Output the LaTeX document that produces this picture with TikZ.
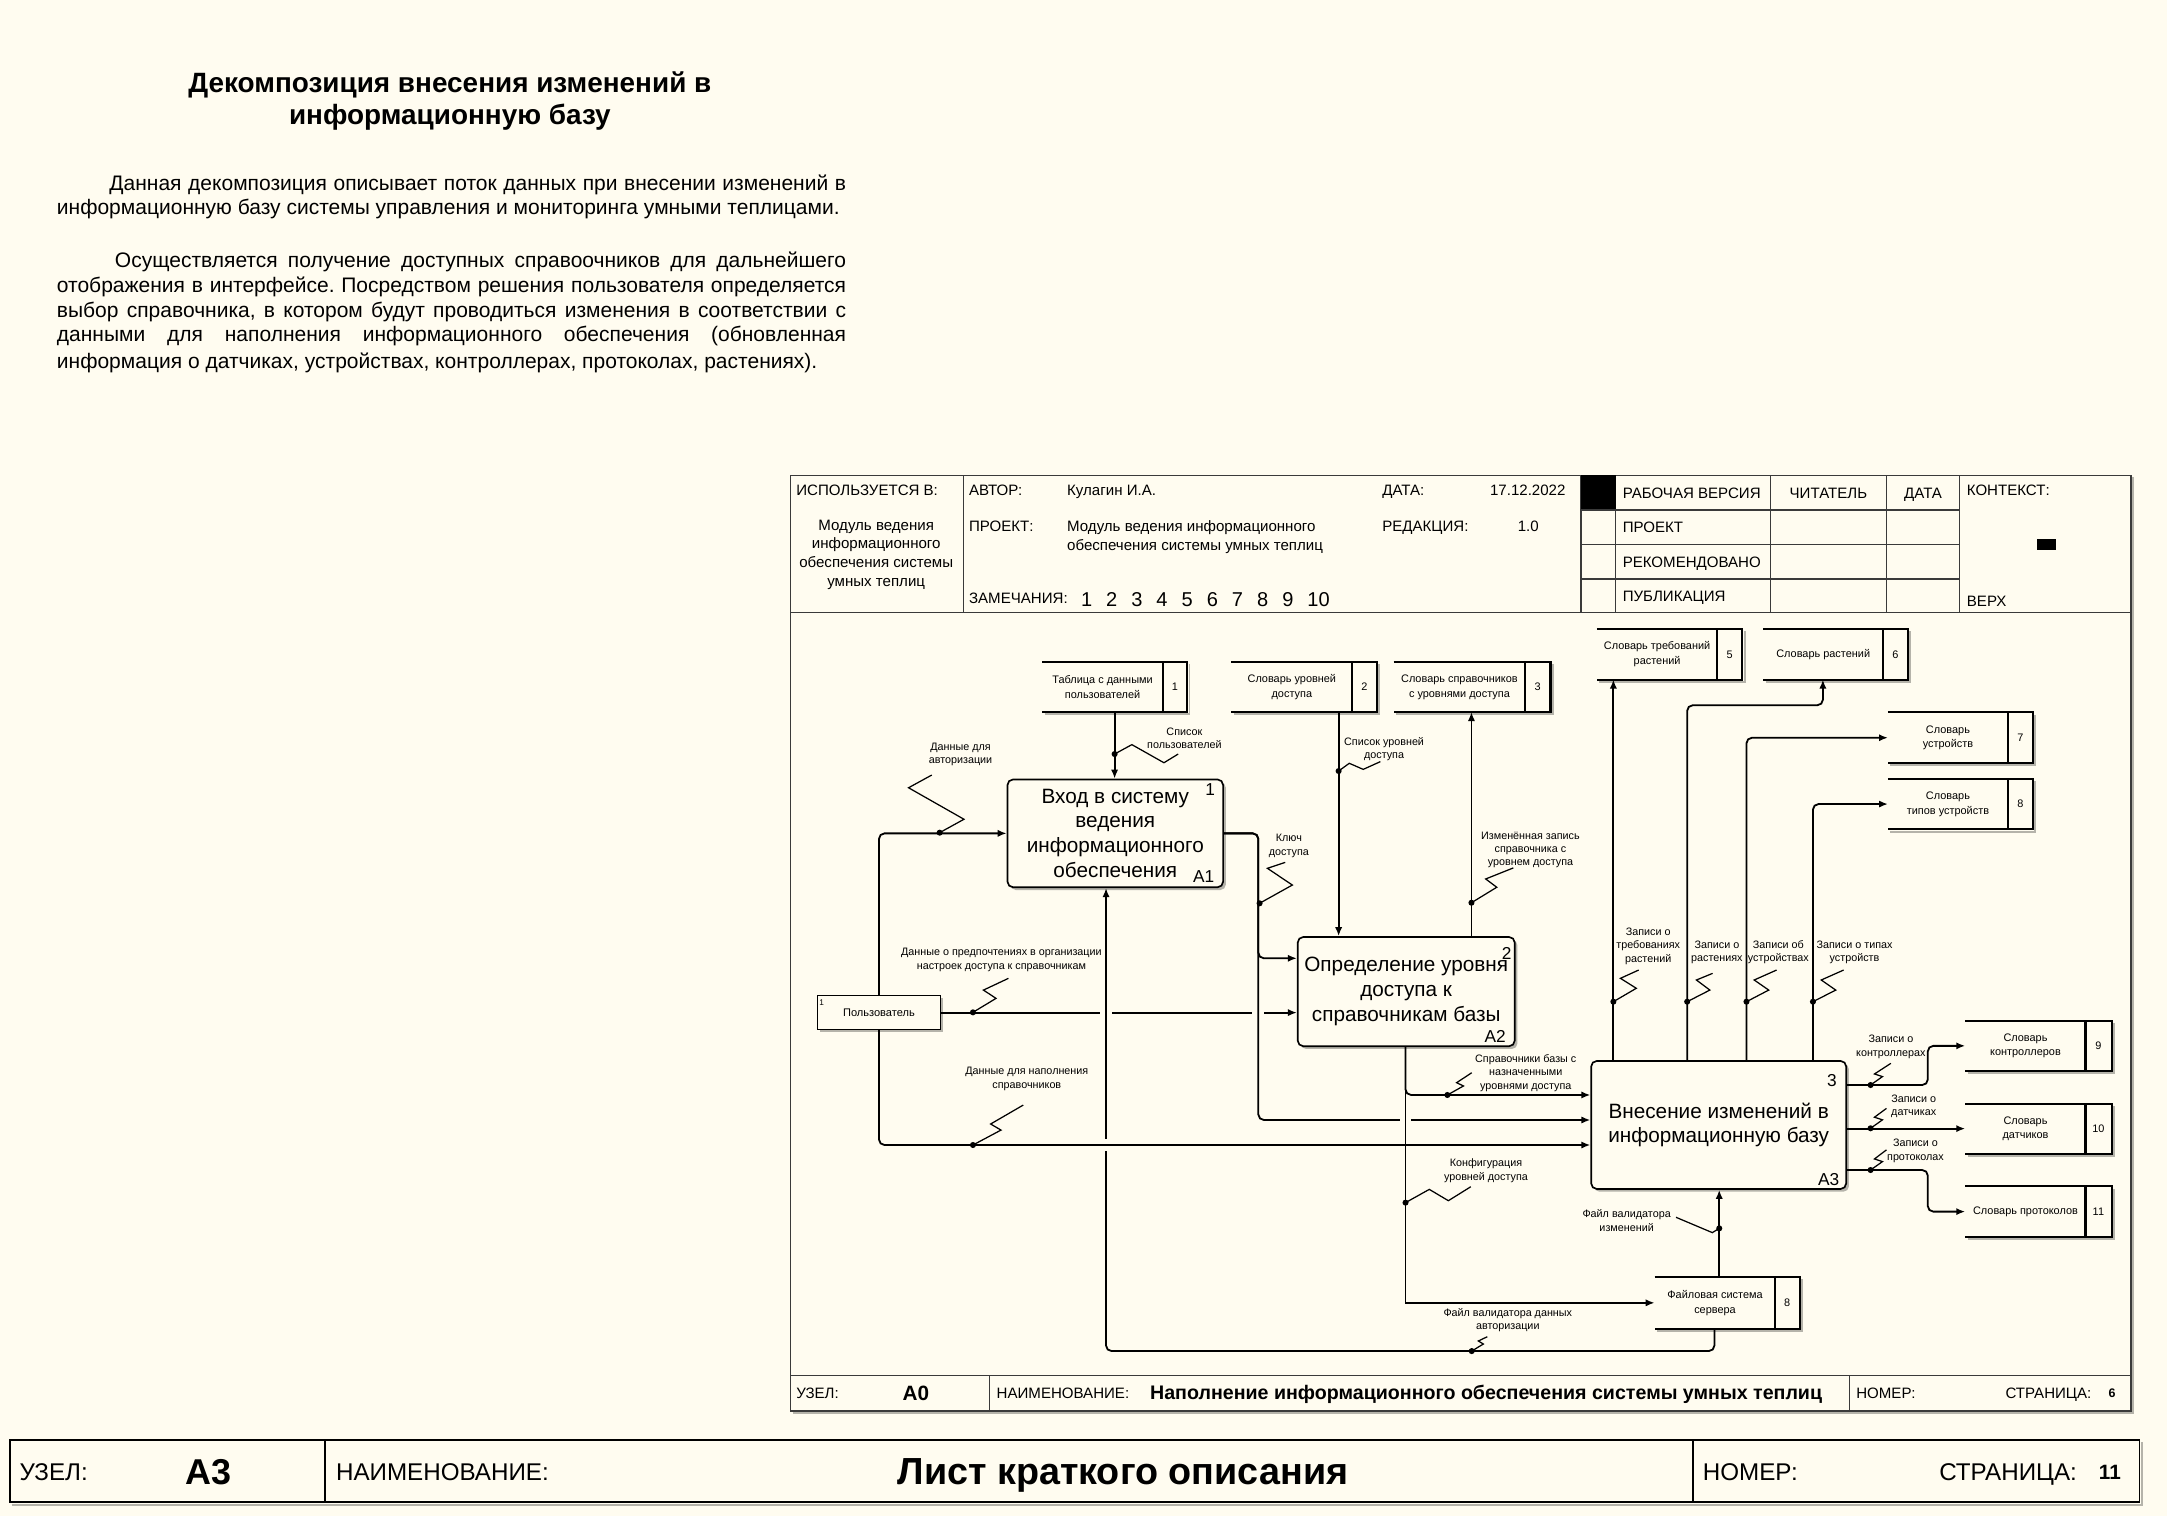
\documentclass[tikz,border=0pt]{standalone}
\usepackage{fontspec}
\setmainfont{Liberation Sans}
\usetikzlibrary{arrows.meta,fit,shadows}

\definecolor{paper}{HTML}{FFFCF0}
\definecolor{shadowgray}{HTML}{B5B3AA}
\definecolor{rule}{HTML}{3A3A3A}

\newcommand\fsz[2]{\fontsize{#1}{#2}\selectfont}

% data store: name, left, top, right, bottom, divider, text, number
\newcommand\dstore[8]{%
  \draw[shadowgray, line width=1.4pt] (#2+1.5,#5+1.8) -- (#4+1.8,#5+1.8) -- (#4+1.8,#3+1.5);
  \node[fit={(#2,#3) (#4,#5)}, inner sep=0pt] (#1) {};
  \draw[storeline] (#1.north west) -- (#1.north east) -- (#1.south east) -- (#1.south west);
  \draw[storeline] (#6,#3) -- (#6,#5);
  \node[storetxt] (#1-t) at ({(#2+#6)/2},{(#3+#5)/2}) {#7};
  \node[storetxt] (#1-n) at ({(#6+#4)/2},{(#3+#5)/2}) {#8};
}
% label leader: dot on the arrow and a zigzag to its label
\newcommand\squig[8]{%
  \draw[sq] (#1,#2) -- (#3,#4) -- (#5,#6) -- (#7,#8);
  \fill (#1,#2) circle (2.2pt);
}

\begin{document}
\frenchspacing
\begin{tikzpicture}[x=1pt,y=-1pt,
  arr/.style={line width=1.3pt, -{Latex[length=6.5pt,width=5.2pt]}},
  rc/.style={rounded corners=4pt},
  sq/.style={line width=0.9pt},
  frame/.style={draw=rule, line width=0.9pt},
  storeline/.style={line width=1.5pt},
  storetxt/.style={font=\fsz{7.9}{10.6}, align=center, inner sep=0pt},
  albl/.style={font=\fsz{7.8}{9.7}, align=center, inner sep=0pt},
  act/.style={draw, line width=1.2pt, rounded corners=4pt, fill=paper, align=center,
    font=\fsz{15}{18}, inner sep=0pt,
    drop shadow={shadow xshift=2pt, shadow yshift=-2pt, fill=shadowgray, opacity=1}},
  actnum/.style={font=\fsz{12.5}{14}, inner sep=0pt},
  hdr/.style={font=\fsz{10.9}{13.7}, anchor=base west, inner sep=0pt},
  hdrc/.style={font=\fsz{10.9}{13.7}, anchor=base, inner sep=0pt},
  ptxt/.style={font=\fsz{15.2}{18.2}, anchor=base west, inner sep=0pt},
  ftr/.style={font=\fsz{17.5}{20}, anchor=base west, inner sep=0pt}
]
\useasboundingbox (0,0) rectangle (1568,1097);
\fill[paper] (0,0) rectangle (1568,1097);

% ---------- heading and description ----------
\node[font=\bfseries\fsz{20.2}{23}, anchor=base, inner sep=0pt] (title1) at (325.5,67) {Декомпозиция внесения изменений в};
\node[font=\bfseries\fsz{20.2}{23}, anchor=base, inner sep=0pt] (title2) at (325.5,90) {информационную базу};

\node[ptxt] (p1a) at (41,137.5) {\makebox[571pt][s]{\hspace*{38pt}Данная декомпозиция описывает поток данных при внесении изменений в}};
\node[ptxt] (p1b) at (41,155.5) {информационную базу системы управления и мониторинга умными теплицами.};
\node[ptxt] (p2a) at (41,193.4) {\makebox[571pt][s]{\hspace*{42pt}Осуществляется получение доступных справоочников для дальнейшего}};
\node[ptxt] (p2b) at (41,211.4) {\makebox[571pt][s]{отображения в интерфейсе. Посредством решения пользователя определяется}};
\node[ptxt] (p2c) at (41,229.4) {\makebox[571pt][s]{выбор справочника, в котором будут проводиться изменения в соответствии с}};
\node[ptxt] (p2d) at (41,247.4) {\makebox[571pt][s]{данными для наполнения информационного обеспечения (обновленная}};
\node[ptxt] (p2e) at (41,266.4) {информация о датчиках, устройствах, контроллерах, протоколах, растениях).};

% ---------- diagram frame ----------
\draw[shadowgray, line width=1.2pt] (573.5,1022.5) -- (1543.5,1022.5) -- (1543.5,345.5);
\draw[frame] (572,344) rectangle (1542,1021);
\draw[frame] (572,443) -- (1542,443);
\draw[frame] (572,995) -- (1542,995);
\draw[frame] (697,344) -- (697,443);
\draw[frame] (1144,344) -- (1144,443);
\draw[frame] (1169,344) -- (1169,443);
\fill (1144,344) rectangle (1169,369);
\draw[frame] (1144,369) -- (1418,369);
\draw[frame] (1144,394) -- (1418,394);
\draw[frame] (1144,419) -- (1418,419);
\draw[frame] (1281,344) -- (1281,443);
\draw[frame] (1365,344) -- (1365,443);
\draw[frame] (1418,344) -- (1418,443);
\fill (1474,390) rectangle (1488,398);
\draw[frame] (716,995) -- (716,1021);
\draw[frame] (1338,995) -- (1338,1021);

% header texts
\node[hdr] (h1) at (576,358.5) {ИСПОЛЬЗУЕТСЯ В:};
\node[hdrc] (h2) at (634,383.5) {Модуль ведения};
\node[hdrc] (h3) at (634,397.2) {информационного};
\node[hdrc] (h4) at (634,410.9) {обеспечения системы};
\node[hdrc] (h5) at (634,424.6) {умных теплиц};
\node[hdr] (h6) at (701,358.5) {АВТОР:};
\node[hdr] (h7) at (772,358.5) {Кулагин И.А.};
\node[hdr] (h8) at (1000,358.5) {ДАТА:};
\node[hdr] (h9) at (1078,358.5) {17.12.2022};
\node[hdr] (h10) at (701,384.5) {ПРОЕКТ:};
\node[hdr] (h11) at (772,384.5) {Модуль ведения информационного};
\node[hdr] (h12) at (772,398.5) {обеспечения системы умных теплиц};
\node[hdr] (h13) at (1000,384.5) {РЕДАКЦИЯ:};
\node[hdr] (h14) at (1098,384.5) {1.0};
\node[hdr] (h15) at (701,436.5) {ЗАМЕЧАНИЯ:};
\node[font=\fsz{14.5}{16}, anchor=base west, inner sep=0pt] (h16) at (782,438.5) {\makebox[180pt][s]{1 2 3 4 5 6 7 8 9 10}};
\node[hdr] (h17) at (1174,360.5) {РАБОЧАЯ ВЕРСИЯ};
\node[hdr] (h18) at (1174,385.5) {ПРОЕКТ};
\node[hdr] (h19) at (1174,410.5) {РЕКОМЕНДОВАНО};
\node[hdr] (h20) at (1174,435.5) {ПУБЛИКАЦИЯ};
\node[hdrc] (h21) at (1323,360.5) {ЧИТАТЕЛЬ};
\node[hdrc] (h22) at (1391.5,360.5) {ДАТА};
\node[hdr] (h23) at (1423,358.5) {КОНТЕКСТ:};
\node[hdr] (h24) at (1423,438.5) {ВЕРХ};

% inner footer texts
\node[hdr] (f1) at (576,1012) {УЗЕЛ:};
\node[font=\bfseries\fsz{15}{16}, anchor=base west, inner sep=0pt] (f2) at (653,1013.5) {А0};
\node[hdr] (f3) at (721,1012) {НАИМЕНОВАНИЕ:};
\node[font=\bfseries\fsz{14.2}{16}, anchor=base west, inner sep=0pt] (f4) at (832,1013) {Наполнение информационного обеспечения системы умных теплиц};
\node[hdr] (f5) at (1343,1012) {НОМЕР:};
\node[hdr] (f6) at (1451,1012) {СТРАНИЦА:};
\node[font=\bfseries\fsz{9}{11}, anchor=base west, inner sep=0pt] (f7) at (1525.5,1011) {6};

% ---------- data stores ----------
\dstore{s1}{754.3}{479.3}{858.9}{515}{841.3}{Таблица с данными\\пользователей}{1}
\dstore{s2}{891.2}{479.3}{996.1}{515}{978.3}{Словарь уровней\\доступа}{2}
\dstore{s3}{1008.5}{479.3}{1121.7}{515}{1103.5}{Словарь справочников\\с уровнями доступа}{3}
\dstore{s5}{1155.6}{455.4}{1260.5}{491.5}{1242.5}{Словарь требований\\растений}{5}
\dstore{s6}{1276}{455.4}{1380.4}{491.5}{1362.5}{Словарь растений}{6}
\dstore{s7}{1366.3}{515.7}{1471}{551.9}{1452.7}{Словарь\\устройств}{7}
\dstore{s8}{1366.3}{563.7}{1471}{599.9}{1452.7}{Словарь\\типов устройств}{8}
\dstore{s9}{1422.2}{738.8}{1527.7}{774.7}{1509}{Словарь\\контроллеров}{9}
\dstore{s10}{1422.2}{798.8}{1527.7}{834.5}{1509}{Словарь\\датчиков}{10}
\dstore{s11}{1422.2}{858.6}{1527.7}{894.8}{1509}{Словарь протоколов}{11}
\dstore{fs}{1197.5}{924.2}{1302}{961.2}{1284.4}{Файловая система\\сервера}{8}

% ---------- external entity ----------
\node[draw, line width=0.9pt, fill=paper, minimum width=89.3pt, minimum height=24.3pt, inner sep=0pt,
  font=\fsz{8}{10}, drop shadow={shadow xshift=1.8pt, shadow yshift=-1.8pt, fill=shadowgray, opacity=1}]
  (usr) at (636,732.7) {Пользователь};
\node[font=\fsz{6}{7}, inner sep=0pt] (usrn) at (594.5,725.5) {1};

% ---------- activities ----------
\node[act, minimum width=156pt, minimum height=78pt] (a1) at (807,603) {Вход в систему\\ведения\\информационного\\обеспечения};
\node[act, minimum width=157pt, minimum height=79pt] (a2) at (1017.5,717.5) {Определение уровня\\доступа к\\справочникам базы};
\node[act, minimum width=184.5pt, minimum height=92.6pt] (a3) at (1243.6,814) {Внесение изменений в\\информационную базу};
\node[actnum] (a1n) at (875.6,571) {1};
\node[actnum] (a1c) at (871,634.4) {А1};
\node[actnum] (a2n) at (1090.2,689.8) {2};
\node[actnum] (a2c) at (1081.8,750.1) {А2};
\node[actnum] (a3n) at (1325.5,782) {3};
\node[actnum] (a3c) at (1323.2,853.3) {А3};

% ---------- routing coordinates ----------
\coordinate (xA) at (806.5,0);
\coordinate (xB) at (968.6,0);
\coordinate (xC) at (1064.7,0);
\coordinate (xD) at (1017,0);
\coordinate (xE) at (1244,0);
\coordinate (xF) at (1240.5,0);
\coordinate (xG) at (800.3,0);
\coordinate (xK) at (910.5,0);
\coordinate (xH1) at (1167.4,0);
\coordinate (xH2) at (1220.8,0);
\coordinate (xH2b) at (1319,0);
\coordinate (xH3) at (1263.7,0);
\coordinate (xH4) at (1311.8,0);
\coordinate (xO) at (1394.9,0);
\coordinate (yF) at (0,977.6);
\coordinate (yK2) at (0,693.4);
\coordinate (yK3) at (0,810.4);
\coordinate (yU3) at (0,828.5);
\coordinate (yD1) at (0,792.3);
\coordinate (yH2) at (0,510.3);
\coordinate (yO1) at (0,785.1);
\coordinate (yO3) at (0,846.6);

% ---------- connectors ----------
\draw[arr] (usr.east) -- (a2.west |- usr.east);
\fill[paper] (796,729) rectangle (804.6,736.5);
\fill[paper] (906.2,729) rectangle (914.8,736.5);

\draw[arr, rc] (fs.south -| xF) |- (xG |- yF) -- (a1.south -| xG);
\draw[arr, rc] (a1.east) -| (xK |- yK2) -- (a2.west |- yK2);
\draw[arr, rc] (a1.east) -| (xK |- yK3) -- (a3.west |- yK3);
\fill[paper] (1012.7,806.8) rectangle (1021.3,814);
\fill[paper] (796.6,824) rectangle (804,833);

\draw[arr, rc] (usr.south) |- (a3.west |- yU3);
\draw[arr, rc] (a2.south -| xD) |- (a3.west |- yD1);
\draw[arr] (a2.south -| xD) |- (fs.west);
\draw[arr] (fs.north -| xE) -- (a3.south -| xE);
\draw[arr] (s1.south -| xA) -- (a1.north -| xA);
\draw[arr, rc] (usr.north) |- (a1.west);
\draw[arr] (s2.south -| xB) -- (a2.north -| xB);
\draw[arr] (a2.north -| xC) -- (s3.south -| xC);

\draw[arr] (a3.north -| xH1) -- (s5.south -| xH1);
\draw[arr, rc] (a3.north -| xH2) |- (xH2b |- yH2) -- (s6.south -| xH2b);
\draw[arr, rc] (a3.north -| xH3) |- (s7.west);
\draw[arr, rc] (a3.north -| xH4) |- (s8.west);
\draw[arr, rc] (a3.east |- yO1) -| (xO |- s9.west) -- (s9.west);
\draw[arr] (a3.east |- s10.west) -- (s10.west);
\draw[arr, rc] (a3.east |- yO3) -| (xO |- s11.west) -- (s11.west);

% ---------- arrow labels ----------
\squig{806.5}{545.6}{819}{538.8}{842.2}{551.9}{852.5}{545.6}
\node[albl] (l1) at (857,534) {Список\\пользователей};
\squig{679.9}{602.5}{697.5}{592.8}{657.4}{570}{674.2}{560.8}
\node[albl] (l2) at (695,546) {Данные для\\авторизации};
\squig{968.6}{557.9}{976.3}{552.3}{986.4}{556.7}{998.8}{551.1}
\node[albl] (l3) at (1001.5,542) {Список уровней\\доступа};
\squig{1064.7}{653.2}{1083}{642}{1075}{636}{1095}{628}
\node[albl] (l4) at (1107.4,615) {Изменённая запись\\справочника с\\уровнем доступа};
\squig{911.4}{653.6}{935.1}{640.4}{917.1}{628.3}{930}{624}
\node[albl] (l5) at (932.6,612) {Ключ\\доступа};
\squig{704}{732.5}{720.7}{722.4}{711.6}{716.4}{729.7}{707.9}
\node[albl] (l6) at (724.6,694.6) {Данные о предпочтениях в организации\\настроек доступа к справочникам};
\squig{704}{828.5}{724.3}{817.7}{716.8}{813.3}{740.4}{799.6}
\node[albl] (l7) at (743,780.7) {Данные для наполнения\\справочников};
\squig{1047.3}{792.3}{1058.9}{785.8}{1054}{783.4}{1064.9}{776.2}
\node[albl] (l8) at (1104,776.5) {Справочники базы с\\назначенными\\уровнями доступа};
\squig{1017}{870.2}{1034.2}{860.6}{1048}{868.8}{1064.2}{858.7}
\node[albl] (l9) at (1075.2,847) {Конфигурация\\уровней доступа};
\draw[sq] (1244,888.8) -- (1239,891.9) -- (1212.7,880.8);
\fill (1244,888.8) circle (2.2pt);
\node[albl] (l10) at (1177,883.2) {Файл валидатора\\изменений};
\squig{1064.9}{977.6}{1073.3}{972.5}{1069.7}{970.3}{1076.2}{967.2}
\node[albl] (l11) at (1091,955.4) {Файл валидатора данных\\авторизации};
\squig{1167.4}{724.8}{1184}{715.1}{1172.5}{707.9}{1185.7}{701.9}
\node[albl] (l12) at (1192.6,684.7) {Записи о\\требованиях\\растений};
\squig{1220.8}{724.8}{1237.2}{716.4}{1227.5}{709.1}{1239.2}{704.3}
\node[albl] (l13) at (1242.3,689) {Записи о\\растениях};
\squig{1263.7}{724.8}{1279.8}{716.4}{1269.3}{709.1}{1285.5}{701.9}
\node[albl] (l14) at (1286.8,689) {Записи об\\устройствах};
\squig{1311.8}{724.8}{1328.3}{716.4}{1317.8}{709.1}{1334}{701.9}
\node[albl] (l15) at (1341.9,689) {Записи о типах\\устройств};
\squig{1353.5}{785.1}{1362.1}{779}{1356.3}{777.1}{1368.2}{769.4}
\node[albl] (l16) at (1368.2,757.4) {Записи о\\контроллерах};
\squig{1353.5}{816.4}{1362.1}{810.3}{1356.3}{808.4}{1365}{802}
\node[albl] (l17) at (1384.7,800.5) {Записи о\\датчиках};
\squig{1353.5}{846.6}{1362.1}{840.5}{1356.3}{838.6}{1365}{832}
\node[albl] (l18) at (1386,832.6) {Записи о\\протоколах};

% ---------- sheet footer ----------
\draw[shadowgray, line width=1.6pt] (8.5,1088.8) -- (1549.8,1088.8) -- (1549.8,1043.5);
\draw[line width=1.2pt] (7,1042) rectangle (1548,1087);
\draw[line width=1.2pt] (235,1042) -- (235,1087);
\draw[line width=1.2pt] (1225,1042) -- (1225,1087);
\node[ftr] (g1) at (14,1071.5) {УЗЕЛ:};
\node[font=\bfseries\fsz{26}{28}, anchor=base west, inner sep=0pt] (g2) at (134,1074) {А3};
\node[ftr] (g3) at (243,1071.5) {НАИМЕНОВАНИЕ:};
\node[font=\bfseries\fsz{27.3}{30}, anchor=base, inner sep=0pt] (g4) at (812.5,1074.5) {Лист краткого описания};
\node[ftr] (g5) at (1232,1071.5) {НОМЕР:};
\node[ftr] (g6) at (1403,1071.5) {СТРАНИЦА:};
\node[font=\bfseries\fsz{15}{17}, anchor=base west, inner sep=0pt] (g7) at (1518.5,1070.5) {11};
\end{tikzpicture}
\end{document}
